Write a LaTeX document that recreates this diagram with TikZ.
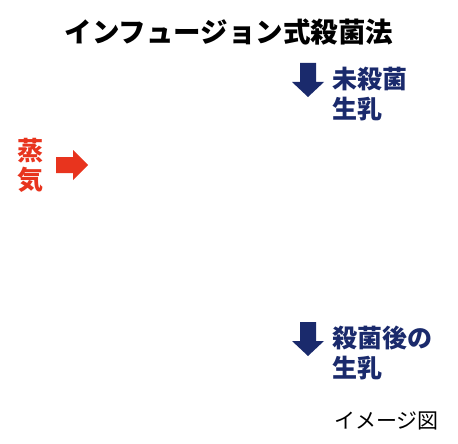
\documentclass[tikz,border=0pt]{standalone}
\usepackage{fontspec}
\setmainfont{Noto Sans CJK JP}
\usetikzlibrary{positioning}
\definecolor{milknavy}{HTML}{1A2A6C}
\definecolor{steamred}{HTML}{E8341E}
\begin{document}
\begin{tikzpicture}[
  x=1pt, y=-1pt,
  title/.style={font=\fontsize{27.5}{30}\selectfont\bfseries, text=black, inner sep=0pt},
  milklabel/.style={
    font=\fontsize{25}{30}\selectfont\bfseries, text=milknavy,
    align=left, anchor=north west, inner sep=0pt
  },
  steamlabel/.style={
    font=\fontsize{26}{29}\selectfont\bfseries, text=steamred,
    align=left, anchor=north west, inner sep=0pt
  },
  note/.style={font=\fontsize{21}{24}\selectfont, text=black, anchor=north west, inner sep=0pt},
  downarrow/.style={fill=milknavy},
  rightarrow/.style={fill=steamred}
]
\useasboundingbox (0,0) rectangle (458,444);

\node[title, anchor=base] (heading) at (229, 43) {インフュージョン式殺菌法};

% milk before and after
\node[milklabel] (rawmilk) at (332, 67) {未殺菌\\生乳};
\node[milklabel] (treatedmilk) at (332, 326) {殺菌後の\\生乳};

\foreach \top in {63, 322}
  \fill[downarrow] (300, \top) -- (316, \top) -- (316, \top+19) -- (324, \top+19)
    -- (308, \top+34) -- (292, \top+19) -- (300, \top+19) -- cycle;

% steam inlet
\node[steamlabel] (steam) at (17, 138) {蒸\\気};
\fill[rightarrow] (56, 157) -- (73, 157) -- (73, 150) -- (88, 165)
  -- (73, 180) -- (73, 173) -- (56, 173) -- cycle;

\node[note] (caption) at (334, 412) {イメージ図};

\end{tikzpicture}
\end{document}
